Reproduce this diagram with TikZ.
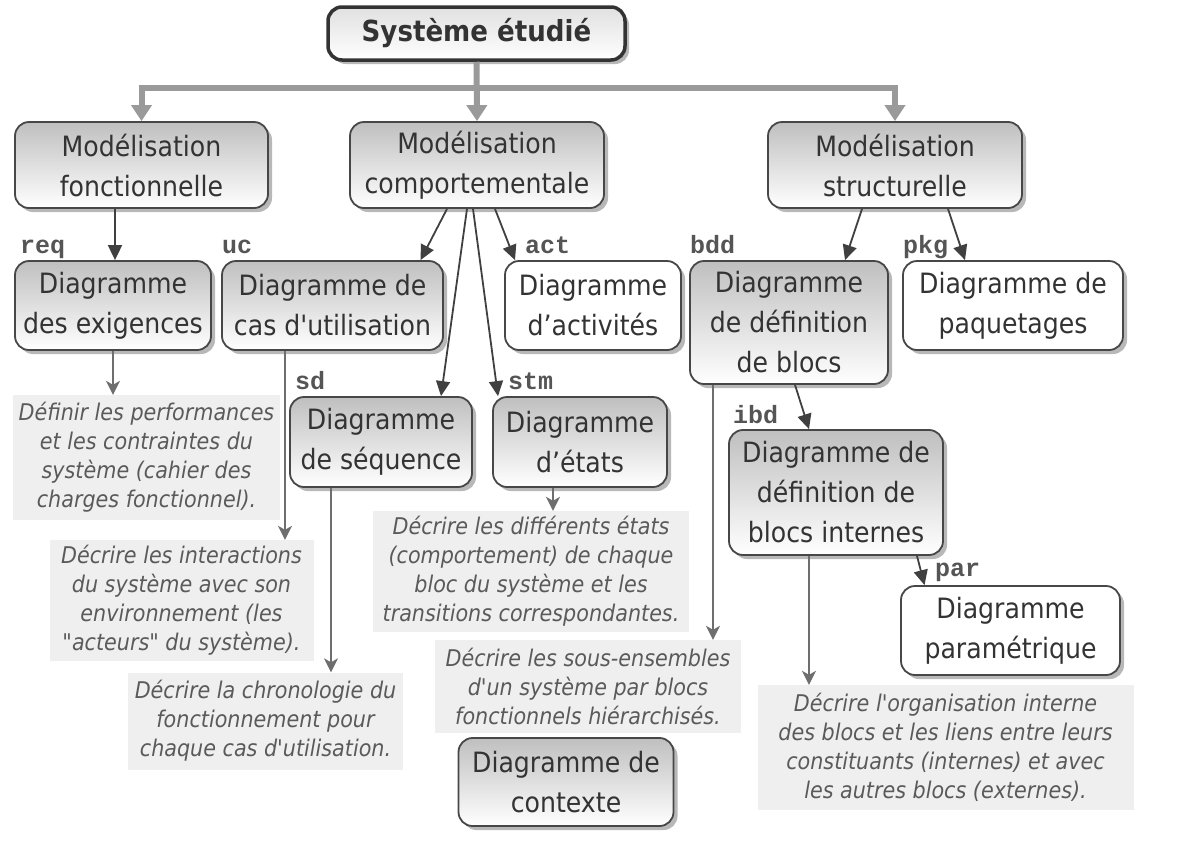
\documentclass[tikz,border=0pt]{standalone}
\usepackage{fontspec}
\usetikzlibrary{arrows.meta,shadows,calc}
\newfontfamily\dgfont[FakeStretch=0.9]{DejaVu Sans}
\newfontfamily\dgmono{Liberation Mono}
\definecolor{boxline}{HTML}{474747}
\definecolor{txt}{HTML}{333333}
\definecolor{desctxt}{HTML}{5A5A5A}
\definecolor{descbg}{HTML}{EFEFEF}
\definecolor{busc}{HTML}{9A9A9A}
\definecolor{thinc}{HTML}{6E6E6E}
\definecolor{darkc}{HTML}{404040}
\definecolor{lblc}{HTML}{555555}
\tikzset{
  box/.style={draw=boxline, line width=1.8pt, rounded corners=14pt, align=center,
    text=txt, inner sep=0pt, font=\dgfont\fontsize{28}{40}\selectfont,
    drop shadow={shadow xshift=4pt, shadow yshift=-4pt, fill=black, opacity=0.28}},
  grad/.style={box, top color=black!25, bottom color=white},
  plain/.style={box, fill=white},
  desc/.style={fill=descbg, align=center, text=desctxt, inner sep=0pt,
    font=\dgfont\itshape\fontsize{23}{29}\selectfont},
  tag/.style={anchor=base west, text=lblc, inner sep=0pt,
    font=\dgmono\bfseries\fontsize{25}{25}\selectfont},
  busline/.style={draw=busc, line width=6pt},
  bustip/.tip={Triangle[length=16pt,width=20pt]},
  darkarrow/.style={draw=darkc, line width=1.8pt, -{Triangle[length=15pt,width=14pt]}},
  thinarrow/.style={draw=thinc, line width=1.6pt, -{Stealth[length=14pt,width=14pt,inset=4pt]}}
}
\begin{document}
\begin{tikzpicture}[x=1pt,y=-1pt]
\useasboundingbox (0,0) rectangle (1183,844);

% top
\node[box, top color=black!12, bottom color=white, draw=black!80, line width=3.5pt,
      minimum width=297, minimum height=53,
      font=\dgfont\bfseries\fontsize{29}{34}\selectfont] (sys) at (476.5,33.5) {Système étudié};

% level 1
\node[grad, minimum width=253, minimum height=86] (mf) at (141.5,165) {Modélisation\\fonctionnelle};
\node[grad, minimum width=254, minimum height=86] (mc) at (477,165) {Modélisation\\comportementale};
\node[grad, minimum width=254, minimum height=86] (ms) at (895,165) {Modélisation\\structurelle};

% level 2
\node[grad, minimum width=196, minimum height=89] (exig) at (113,305.5) {Diagramme\\des exigences};
\node[grad, minimum width=221, minimum height=89] (uc) at (332.5,305.5) {Diagramme de\\cas d'utilisation};
\node[plain, minimum width=176, minimum height=89] (act) at (593,305.5) {Diagramme\\d’activités};
\node[grad, minimum width=198, minimum height=123] (bdd) at (789,322.5) {Diagramme\\de définition\\de blocs};
\node[plain, minimum width=220, minimum height=89] (pkg) at (1013,305.5) {Diagramme de\\paquetages};

% level 3
\node[grad, minimum width=182, minimum height=90] (seq) at (381,442) {Diagramme\\de séquence};
\node[grad, minimum width=174, minimum height=90] (etats) at (580,442) {Diagramme\\d’états};
\node[grad, minimum width=214, minimum height=125] (ibd) at (836,492.5) {Diagramme de\\définition de\\blocs internes};
\node[plain, minimum width=219, minimum height=89] (par) at (1010.5,630.5) {Diagramme\\paramétrique};
\node[grad, minimum width=215, minimum height=88] (ctx) at (566,782) {Diagramme de\\contexte};

% labels
\node[tag] (lreq) at (20,253) {req};
\node[tag] (luc) at (222,253) {uc};
\node[tag] (lact) at (525,253) {act};
\node[tag] (lbdd) at (690,253) {bdd};
\node[tag] (lpkg) at (903,253) {pkg};
\node[tag] (lsd) at (295,389) {sd};
\node[tag] (lstm) at (508,389) {stm};
\node[tag] (libd) at (733,423) {ibd};
\node[tag] (lpar) at (935,576) {par};

% descriptions
\node[desc, minimum width=267, minimum height=125] (d1) at (146.5,457.5)
  {Définir les performances\\et les contraintes du\\système (cahier des\\charges fonctionnel).};
\node[desc, minimum width=264, minimum height=121] (d2) at (181.5,600.5)
  {Décrire les interactions\\du système avec son\\environnement (les\\"acteurs" du système).};
\node[desc, minimum width=275, minimum height=97] (d3) at (265.5,721)
  {Décrire la chronologie du\\fonctionnement pour\\chaque cas d'utilisation.};
\node[desc, minimum width=316, minimum height=121] (d4) at (531,571.5)
  {Décrire les différents états\\(comportement) de chaque\\bloc du système et les\\transitions correspondantes.};
\node[desc, minimum width=306, minimum height=93] (d5) at (588,686.5)
  {Décrire les sous-ensembles\\d'un système par blocs\\fonctionnels hiérarchisés.};
\node[desc, minimum width=376, minimum height=125] (d6) at (945.5,747.5)
  {Décrire l'organisation interne\\des blocs et les liens entre leurs\\constituants (internes) et avec\\les autres blocs (externes).};

% bus
\draw[busline, -bustip] (sys.south) -- (mc.north);
\draw[busline, bustip-bustip] (mf.north) -- ++(0,-33) -| (ms.north);

% dark arrows
\draw[darkarrow] ($(exig.north |- mf.south)+(2,0)$) -- ($(exig.north)+(2,0)$);
\draw[darkarrow] ($(mc.south)+(-30,0)$) -- ($(uc.north)+(88,0)$);
\draw[darkarrow] ($(mc.south)+(-10,0)$) -- ($(seq.north)+(60,0)$);
\draw[darkarrow] ($(mc.south)+(-4,0)$) -- ($(etats.north)+(-82,0)$);
\draw[darkarrow] ($(mc.south)+(18,0)$) -- ($(act.north)+(-78,0)$);
\draw[darkarrow] ($(ms.south)+(-33,0)$) -- ($(bdd.north)+(56,0)$);
\draw[darkarrow] ($(ms.south)+(53,0)$) -- ($(pkg.north)+(-48,0)$);
\draw[darkarrow] ($(bdd.south)+(6,0)$) -- ($(ibd.north)+(-27,0)$);
\draw[darkarrow] ($(ibd.south)+(81,0)$) -- ($(par.north)+(-86,0)$);

% thin arrows to descriptions
\draw[thinarrow] (exig.south) -- (exig.south |- d1.north);
\draw[thinarrow] ($(uc.south)+(-47.5,0)$) -- ($(uc.south |- d2.north)+(-47.5,0)$);
\draw[thinarrow] ($(seq.south)+(-50,0)$) -- ($(seq.south |- d3.north)+(-50,0)$);
\draw[thinarrow] ($(etats.south)+(-27,0)$) -- ($(etats.south |- d4.north)+(-27,0)$);
\draw[thinarrow] ($(bdd.south)+(-76,0)$) -- ($(bdd.south |- d5.north)+(-76,0)$);
\draw[thinarrow] ($(ibd.south)+(-27,0)$) -- ($(ibd.south |- d6.north)+(-27,0)$);
\end{tikzpicture}
\end{document}
